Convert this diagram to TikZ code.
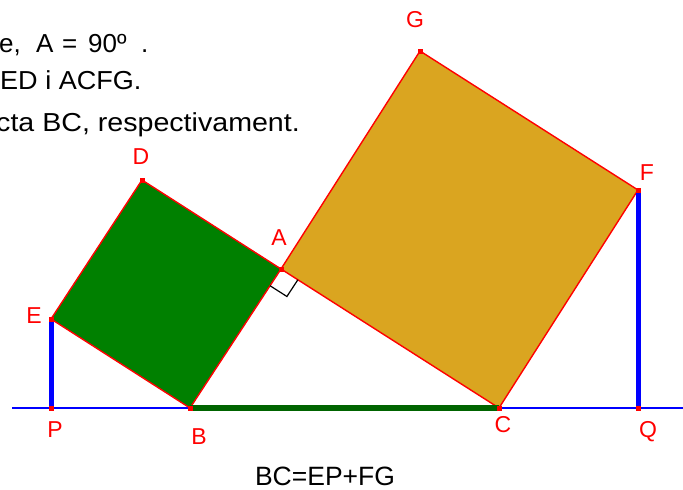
\documentclass[tikz,border=0pt]{standalone}
\usepackage{fontspec}
\setmainfont{Liberation Sans}
\usetikzlibrary{calc}
\definecolor{sqgreen}{RGB}{0,128,0}
\definecolor{sqgold}{RGB}{218,165,32}
\definecolor{seggreen}{RGB}{0,100,0}
\begin{document}
\begin{tikzpicture}[x=1pt,y=-1pt,
  edge/.style={draw=red,line width=1.4pt},
  lbl/.style={text=red,font=\fontsize{23}{26}\selectfont,inner sep=0pt},
  txt/.style={font=\fontsize{26}{30}\selectfont,inner sep=0pt,anchor=base west}]
\useasboundingbox (0,0) rectangle (683,490);
\coordinate (A) at (281,269);
\coordinate (B) at (190,408);
\coordinate (C) at (499,408);
\coordinate (D) at (142,180);
\coordinate (E) at (51,319);
\coordinate (F) at (638,190);
\coordinate (G) at (420,51);
\coordinate (P) at (51,408);
\coordinate (Q) at (638,408);
\coordinate (L0) at (12,408);
\coordinate (L1) at (683,408);
% base line
\draw[blue,line width=1.4pt] (L0) -- (L1);
% squares
\fill[sqgreen] (A) -- (B) -- (E) -- (D) -- cycle;
\fill[sqgold] (A) -- (C) -- (F) -- (G) -- cycle;
\draw[edge] (A) -- (B) -- (E) -- (D) -- cycle;
\draw[edge] (A) -- (C) -- (F) -- (G) -- cycle;
% right angle marker
\coordinate (M1) at ($(A)!20pt!(B)$);
\coordinate (M2) at ($(A)!20pt!(C)$);
\coordinate (M3) at ($(M1)+(M2)-(A)$);
\draw[black,line width=1.2pt] (M1) -- (M3) -- (M2);
% thick segments
\draw[seggreen,line width=5.5pt] (B) -- (C);
\draw[blue,line width=5pt] (E) -- (P);
\draw[blue,line width=5pt] (F) -- (Q);
% point marks
\foreach \p in {A,B,C,D,E,F,G,P,Q}{\fill[red] ($(\p)+(-2.5,-2.5)$) rectangle ($(\p)+(2.5,2.5)$);}
% labels
\node[lbl] (lG) at (415,20) {G};
\node[lbl] (lD) at (141,157) {D};
\node[lbl] (lA) at (279,238) {A};
\node[lbl] (lF) at (647,173) {F};
\node[lbl] (lE) at (34,316) {E};
\node[lbl] (lP) at (55,430) {P};
\node[lbl] (lB) at (199,437) {B};
\node[lbl] (lC) at (503,425) {C};
\node[lbl] (lQ) at (648,432) {Q};
% text
\node[txt] (t1a) at (-1,52) {e,};
\node[txt] (t1b) at (36,52) {A};
\node[txt] (t1c) at (62,52) {=};
\node[txt] (t1d) at (88,52) {90º};
\node[txt] (t1e) at (141,52) {.};
\node[txt,xscale=1.04] (t2) at (0,89) {ED i ACFG.};
\node[txt,xscale=1.1] (t3) at (-4,131) {cta BC, respectivament.};
\node[txt,anchor=base,text depth=0pt,font=\fontsize{26.5}{30}\selectfont] (t4) at (325,485) {BC=EP+FG};
\end{tikzpicture}
\end{document}
